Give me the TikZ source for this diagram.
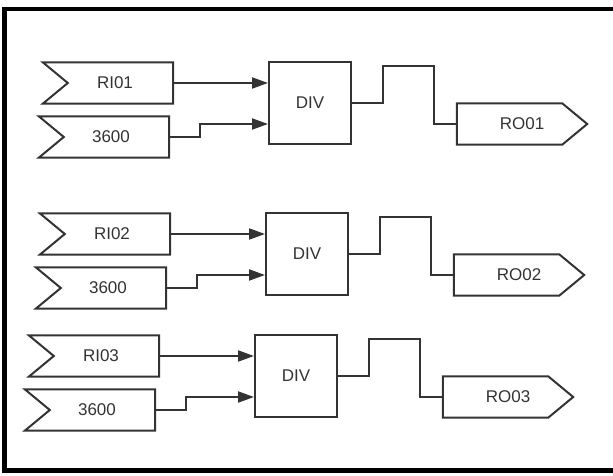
\documentclass[tikz,border=0pt]{standalone}
\usepackage{fontspec}
\setmainfont{Liberation Sans}
\usetikzlibrary{calc,positioning,arrows.meta}

\tikzset{
  wire/.style={line width=2pt, draw=black!80},
  tagfont/.style={font=\fontsize{17}{20}\selectfont, text=black!80},
  inflag/.style={tagfont, minimum width=130pt, minimum height=41pt, inner sep=0pt},
  outflag/.style={tagfont, minimum width=130pt, minimum height=41pt, inner sep=0pt},
  divbox/.style={wire, tagfont, minimum size=82pt, inner sep=0pt}
}

\begin{document}
\begin{tikzpicture}[x=1pt, y=-1pt, >={Triangle[length=16pt,width=11pt]}]
        \useasboundingbox (0,0) rectangle (613,476);
        % Frame
        \draw[line width=4.5pt] (4.5,9) rectangle (625,470.5);

        \foreach \i/\bx/\by in {01/269/62, 02/266/213, 03/255/335} {
            % Inputs and divider
            \node[inflag] (ri\i) at (\bx-161,\by+21) {\hspace*{14pt}RI\i};
            \node[inflag] (k\i) at (\bx-165,\by+75) {\hspace*{14pt}3600};
            \node[divbox] (div\i) at (\bx+41,\by+41) {DIV};
            \node[outflag] (ro\i) at (\bx+253,\by+62) {RO\i};

            % Flag outlines
            \draw[wire] (ri\i.north west) -- (ri\i.north east) -- (ri\i.south east) -- (ri\i.south west) -- ([xshift=25pt]ri\i.west) -- cycle;
            \draw[wire] (k\i.north west) -- (k\i.north east) -- (k\i.south east) -- (k\i.south west) -- ([xshift=25pt]k\i.west) -- cycle;
            \draw[wire] (ro\i.north west) -- ([xshift=-25pt]ro\i.north east) -- (ro\i.east) -- ([xshift=-25pt]ro\i.south east) -- (ro\i.south west) -- cycle;

            % Connections
            \draw[wire, ->] (ri\i.east) -- (ri\i.east -| div\i.west);
            \draw[wire, ->] (k\i.east) -- ++(31,0) |- ($(div\i.north west)!0.75!(div\i.south west)$);
            \draw[wire] (div\i.east) -- ++(31,0) -- ++(0,-37) -- ++(51,0) |- (ro\i.west);
        }
    \end{tikzpicture}
\end{document}
